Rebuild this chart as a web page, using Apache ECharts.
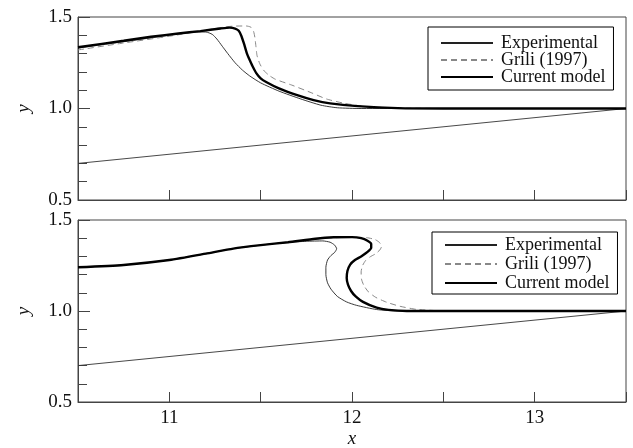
<!DOCTYPE html>
<html>
<head>
<meta charset="utf-8">
<script src="https://cdn.jsdelivr.net/npm/echarts@6/dist/echarts.min.js"></script>
<style>
html,body{margin:0;padding:0;background:#fff;}
#main{width:633px;height:448px;}
</style>
</head>
<body>
<div id="main"></div>
<script>
// 数据
var names = ['Experimental', 'Grili (1997)', 'Current model'];
var xTicks = [11, 12, 13];
var beach = [[10.5, 0.7], [13.5, 1.0]];

// 上图
var topExp = [[10.5,1.33],[10.75,1.365],[11.0,1.40],[11.15,1.418],[11.2,1.418],[11.235,1.405],[11.26,1.38],[11.29,1.34],[11.32,1.30],[11.36,1.25],[11.4,1.21],[11.44,1.178],[11.5,1.14],[11.6,1.095],[11.72,1.052],[11.83,1.018],[11.92,1.004],[12.05,1.0],[13.5,1.0]];
var topGrili = [[10.5,1.32],[10.75,1.358],[11.0,1.395],[11.2,1.428],[11.3,1.445],[11.35,1.45],[11.42,1.451],[11.445,1.445],[11.46,1.425],[11.468,1.39],[11.474,1.34],[11.48,1.29],[11.495,1.245],[11.515,1.21],[11.545,1.182],[11.58,1.16],[11.67,1.128],[11.78,1.085],[11.86,1.052],[11.95,1.03],[12.08,1.01],[12.3,1.002],[12.5,1.0]];
var topModel = [[10.5,1.335],[10.75,1.37],[10.9,1.392],[11.05,1.41],[11.17,1.423],[11.28,1.437],[11.33,1.442],[11.36,1.437],[11.38,1.425],[11.395,1.395],[11.41,1.35],[11.425,1.30],[11.44,1.265],[11.455,1.232],[11.475,1.195],[11.5,1.165],[11.53,1.145],[11.6,1.11],[11.7,1.073],[11.79,1.046],[11.88,1.028],[12.03,1.013],[12.25,1.002],[12.5,1.0],[13.5,1.0]];

// 下图
var botExp = [[10.5,1.24],[10.75,1.253],[11.0,1.28],[11.2,1.315],[11.35,1.343],[11.5,1.362],[11.65,1.377],[11.75,1.383],[11.84,1.385],[11.88,1.378],[11.905,1.362],[11.916,1.342],[11.905,1.322],[11.885,1.305],[11.866,1.28],[11.857,1.24],[11.857,1.2],[11.866,1.155],[11.885,1.12],[11.92,1.08],[11.97,1.05],[12.025,1.031],[12.135,1.008],[12.25,1.0],[13.5,1.0]];
var botGrili = [[10.5,1.24],[10.75,1.253],[11.0,1.28],[11.2,1.315],[11.35,1.343],[11.5,1.362],[11.65,1.378],[11.85,1.4],[12.0,1.405],[12.08,1.403],[12.125,1.393],[12.15,1.377],[12.162,1.355],[12.152,1.335],[12.13,1.315],[12.1,1.298],[12.075,1.278],[12.058,1.25],[12.05,1.215],[12.052,1.175],[12.065,1.14],[12.09,1.105],[12.13,1.075],[12.19,1.048],[12.262,1.026],[12.353,1.009],[12.5,1.0]];
var botModel = [[10.5,1.24],[10.75,1.253],[11.0,1.28],[11.2,1.315],[11.35,1.343],[11.5,1.362],[11.65,1.378],[11.8,1.397],[11.9,1.405],[12.0,1.406],[12.05,1.4],[12.085,1.386],[12.105,1.368],[12.105,1.348],[12.085,1.325],[12.05,1.3],[12.016,1.28],[11.99,1.255],[11.975,1.22],[11.971,1.181],[11.978,1.145],[11.995,1.11],[12.02,1.08],[12.06,1.05],[12.135,1.018],[12.2,1.006],[12.3,1.0],[13.5,1.0]];

var serif = 'Liberation Serif';
var axisColor = '#444';

function xAxisOpt(idx, showLabel){
	return {
		type:'value', gridIndex:idx, min:10.5, max:13.5, interval:0.5,
		axisLine:{lineStyle:{color:axisColor}},
		axisTick:{inside:true, length:10, lineStyle:{color:axisColor}},
		splitLine:{show:false},
		axisLabel:{
			show:showLabel, margin:7, color:'#111',
			fontFamily:serif, fontSize:19,
			formatter:function(v){ return xTicks.indexOf(v) >= 0 ? String(v) : ''; }
		},
		name: showLabel ? 'x' : '', nameLocation:'middle', nameGap:27,
		nameTextStyle:{fontFamily:serif, fontStyle:'italic', fontSize:19, color:'#111'}
	};
}
function yAxisOpt(idx){
	return {
		type:'value', gridIndex:idx, min:0.5, max:1.5, interval:0.5,
		axisLine:{lineStyle:{color:axisColor}},
		axisTick:{inside:true, length:12, lineStyle:{color:axisColor}},
		minorTick:{show:true, splitNumber:5, length:9, lineStyle:{color:axisColor}},
		splitLine:{show:false},
		axisLabel:{margin:6, color:'#111', fontFamily:serif, fontSize:19,
			formatter:function(v){ return v.toFixed(1); }},
		name:'y', nameLocation:'middle', nameGap:45, nameRotate:90,
		nameTextStyle:{fontFamily:serif, fontStyle:'italic', fontSize:19, color:'#111'}
	};
}
function legendOpt(top, left, gap, pad){
	return {
		data:names, orient:'vertical', left:left, top:top,
		borderColor:'#000', borderWidth:1, borderRadius:0, padding:pad,
		itemWidth:52, itemHeight:14, itemGap:gap,
		itemStyle:{opacity:0},
		textStyle:{fontFamily:serif, fontSize:18, color:'#111', padding:[0,0,0,3]}
	};
}
function lines(idx, exp, grili, model){
	return [
		{name:'beach', type:'line', xAxisIndex:idx, yAxisIndex:idx, data:beach, symbol:'none',
			lineStyle:{color:'#333', width:0.9}, silent:true},
		{name:names[0], type:'line', xAxisIndex:idx, yAxisIndex:idx, data:exp, symbol:'none', smooth:0.2,
			lineStyle:{color:'#222', width:0.9}, itemStyle:{color:'#222'}},
		{name:names[1], type:'line', xAxisIndex:idx, yAxisIndex:idx, data:grili, symbol:'none', smooth:0.2,
			lineStyle:{color:'#888', width:1, type:[6,4]}, itemStyle:{color:'#888'}},
		{name:names[2], type:'line', xAxisIndex:idx, yAxisIndex:idx, data:model, symbol:'none', smooth:0.2, z:5,
			lineStyle:{color:'#000', width:2.4}, itemStyle:{color:'#000'}}
	];
}

var myChart = echarts.init(document.getElementById('main'));
var option = {
	backgroundColor:'#fff',
	animation:false,
	grid:[
		{left:78, top:17, width:548, height:183, show:true, borderColor:axisColor, borderWidth:1, outerBoundsMode:'none'},
		{left:78, top:220, width:548, height:182, show:true, borderColor:axisColor, borderWidth:1, outerBoundsMode:'none'}
	],
	xAxis:[xAxisOpt(0, false), xAxisOpt(1, true)],
	yAxis:[yAxisOpt(0), yAxisOpt(1)],
	legend:[legendOpt(27, 428, -1, [7,8,4,12]), legendOpt(232, 432, 1, [4,8,2,12])],
	series: lines(0, topExp, topGrili, topModel).concat(lines(1, botExp, botGrili, botModel))
};
myChart.setOption(option);
</script>
</body>
</html>
